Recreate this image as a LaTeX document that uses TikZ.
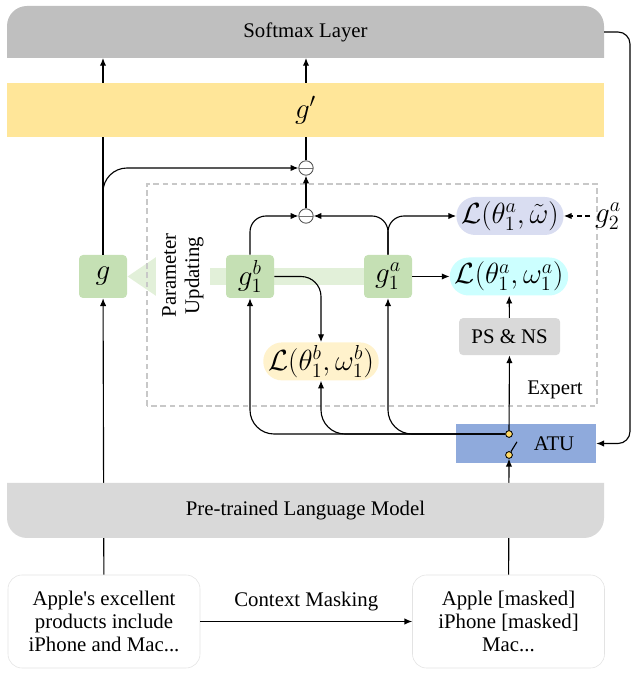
\documentclass[tikz,border=0pt]{standalone}
\usepackage{fontspec}
\setmainfont{Liberation Serif}
\usepackage{xcolor}
\definecolor{layer-gray}{HTML}{BFBFBF}
\definecolor{plm-gray}{HTML}{D9D9D9}
\definecolor{gprime-yellow}{HTML}{FFE699}
\definecolor{node-green}{HTML}{C5E0B4}
\definecolor{band-green}{HTML}{E2F0D9}
\definecolor{loss-lavender}{HTML}{D9DDF1}
\definecolor{loss-cyan}{HTML}{CCFFFF}
\definecolor{loss-cream}{HTML}{FFF2CC}
\definecolor{atu-blue}{HTML}{8FAADC}
\definecolor{dot-yellow}{HTML}{FFD966}
\definecolor{dash-gray}{HTML}{C8C8C8}
\definecolor{frame-gray}{HTML}{E3E3E3}
\usetikzlibrary{arrows.meta,backgrounds,calc}
\tikzset{
  % --- FONTS ---
  txt/.style={font=\fontsize{14.8}{16.5}\selectfont},
  mth/.style={font=\fontsize{20}{22}\selectfont},
  % --- LAYERS ---
  layer-label/.style={
    txt,
    inner sep=0pt,
    outer sep=0pt,
    minimum width=14.925cm
  },
  gprime-layer/.style={
    fill=gprime-yellow,
    mth,
    inner sep=0pt,
    outer sep=0pt,
    minimum width=14.925cm,
    minimum height=1.35cm
  },
  % --- BOXES ---
  green-box/.style={
    fill=node-green,
    mth,
    rounded corners=0.1cm,
    inner sep=0pt,
    minimum width=1.2cm,
    minimum height=1.075cm
  },
  loss-pill/.style={
    mth,
    rounded corners=0.47cm,
    inner xsep=0.12cm,
    inner ysep=0pt,
    minimum height=0.95cm
  },
  gray-box/.style={
    fill=plm-gray,
    txt,
    rounded corners=0.1cm,
    minimum width=2.525cm,
    minimum height=0.925cm
  },
  blue-box/.style={
    fill=atu-blue,
    txt,
    inner sep=0pt,
    minimum width=3.5cm,
    minimum height=0.975cm
  },
  text-box/.style={
    draw=frame-gray,
    fill=white,
    txt,
    align=center,
    rounded corners=0.35cm,
    minimum width=4.8cm,
    minimum height=2.325cm
  },
  minus-node/.style={
    circle,
    draw=black!70,
    fill=white,
    line width=0.6pt,
    inner sep=0pt,
    minimum size=0.36cm,
    path picture={\draw[black!55] (path picture bounding box.west) -- (path picture bounding box.east);}
  },
  switch-dot/.style={
    circle,
    draw=black,
    fill=dot-yellow,
    line width=0.6pt,
    inner sep=0pt,
    minimum size=0.17cm
  },
  expert-box/.style={
    draw=dash-gray,
    line width=0.8pt,
    dash pattern=on 4pt off 2.5pt
  },
  % --- ARROWS ---
  arrw/.style={
    draw=black,
    line width=0.8pt,
    -{Latex[length=5.5pt,width=4.5pt]}
  },
  arrw-dashed/.style={
    arrw,
    dash pattern=on 3.5pt off 2.5pt
  },
  band-arrw/.style={
    draw=band-green,
    line width=0.425cm,
    -{Triangle[width=0.925cm,length=0.725cm]}
  },
}

\begin{document}
\begin{tikzpicture}
  \useasboundingbox (0,0) rectangle (15.8,16.825);
  % --- softmax layer (rounded on top)
  \fill[layer-gray] (0.175,15.375) -- (0.175,16.175) arc[start angle=180,end angle=90,radius=0.5]
    -- (14.6,16.675) arc[start angle=90,end angle=0,radius=0.5] -- (15.1,15.375) -- cycle;
  \node[layer-label, minimum height=1.3cm] (softmax) at (7.6375,16.025) {Softmax Layer};
  % --- model nodes
  \node[green-box] (g)   at (2.575,9.9125) {$g$};
  \node[green-box] (g1b) at (6.25,9.9125)  {$g_1^b$};
  \node[green-box] (g1a) at (9.7,9.9125)   {$g_1^a$};
  \node[minus-node] (m1) at (7.65,12.625) {};
  \node[minus-node] (m2) at (7.65,11.425) {};
  \node[loss-pill, fill=loss-lavender] (lt) at (12.75,11.425)  {$\mathcal{L}(\theta_1^a,\tilde{\omega})$};
  \node[loss-pill, fill=loss-cyan]     (la) at (12.725,9.9125) {$\mathcal{L}(\theta_1^a,\omega_1^a)$};
  \node[loss-pill, fill=loss-cream]    (lb) at (8.025,7.79)    {$\mathcal{L}(\theta_1^b,\omega_1^b)$};
  \node[mth] (g2a) at (15.2,11.425) {$g_2^a$};
  \node[gray-box] (ps) at (12.74,8.41) {PS \& NS};
  \node[txt] (expert) at (13.875,7.075) {Expert};
  \node[blue-box] (atu) at (13.15,5.7375) {\hspace{1.4cm}ATU};
  \node[switch-dot] (sw1) at (12.725,5.975) {};
  \node[switch-dot] (sw2) at (12.725,5.45) {};
  \draw[line width=0.8pt] (sw2.60) -- ($(sw2)+(0.2,0.33)$);
  \node[txt, fill=white, rotate=90, align=center, inner sep=0.15cm] (update) at (4.575,9.94) {Parameter\\Updating};
  % --- inputs
  \node[text-box] (sent)   at (2.6,1.2875)    {Apple\textquotesingle s excellent\\products include\\iPhone and Mac...};
  \node[text-box] (masked) at (12.7125,1.2875) {Apple [masked]\\iPhone [masked]\\Mac...};
  \coordinate (turn) at (15.75,10);
  % --- parameter updating band and expert frame
  \begin{scope}[on background layer]
    \draw[band-arrw] (g1a.west) -- (g.east);
    \draw[expert-box] (3.675,6.675) rectangle (14.925,12.225);
  \end{scope}
  % --- connectors
  \draw[arrw] (g.north) -- (g.north |- softmax.south);
  \draw[arrw, rounded corners=0.6cm] (g.north) |- (m1.west);
  \draw[arrw] (m2) -- (m1);
  \draw[arrw] (m1) -- (m1 |- softmax.south);
  \draw[arrw, rounded corners=0.4cm] (g1b.north) |- (m2.west);
  \draw[arrw, rounded corners=0.4cm] (g1a.north) |- (m2.east);
  \draw[arrw, rounded corners=0.4cm] (g1a.north) |- (lt.west);
  \draw[arrw] (g1a) -- (la);
  \draw[arrw, rounded corners=0.5cm] (g1b.east) -| (lb.north);
  \draw[arrw] (ps) -- (la);
  \draw[arrw-dashed] (g2a) -- (lt);
  \draw[arrw] (sw1) -- (ps);
  \draw[arrw, rounded corners=0.6cm] (sw1.west) -| (g1b.south);
  \draw[arrw, rounded corners=0.6cm] (sw1.west) -| (lb.south);
  \draw[arrw, rounded corners=0.6cm] (sw1.west) -| (g1a.south);
  \draw[arrw, rounded corners=0.3cm] (softmax.east) -| (turn) |- (atu.east);
  \draw[arrw] (sent) -- (g);
  \draw[arrw] (masked) -- (sw2);
  \draw[arrw] (sent) -- node[txt, above=0.12cm] (mask) {Context Masking} (masked);
  % --- g' layer over the lines
  \node[gprime-layer] (gp) at (7.6375,14.075) {$g'$};
  % --- language model (rounded at bottom)
  \fill[plm-gray] (0.175,4.75) -- (0.175,3.875) arc[start angle=180,end angle=270,radius=0.5]
    -- (14.6,3.375) arc[start angle=270,end angle=360,radius=0.5] -- (15.1,4.75) -- cycle;
  \node[layer-label, minimum height=1.375cm] (plm) at (7.6375,4.0625) {Pre-trained Language Model};
\end{tikzpicture}
\end{document}
